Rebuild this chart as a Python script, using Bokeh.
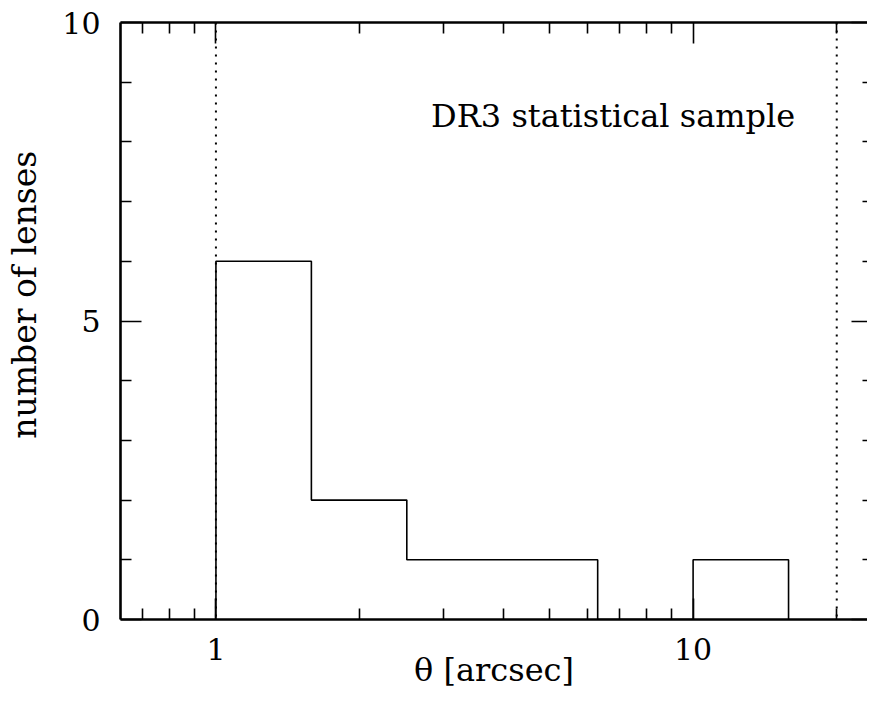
from bokeh.plotting import figure
from bokeh.models import (Range1d, LogAxis, LinearAxis, FixedTicker, Span, Label,
                          PrintfTickFormatter)
from bokeh.embed import file_html
from bokeh.resources import INLINE

# ---- data ----
bin_edges = [1.0, 1.585, 2.512, 3.981, 6.310, 10.0, 15.85]
lens_counts = [6, 2, 1, 1, 0, 1]
theta_limits = [1.0, 20.0]
annotation = "DR3 statistical sample"
x_title = "θ [arcsec]"
y_title = "number of lenses"

x_major_ticks = [1, 10]
x_minor_ticks = [0.7, 0.8, 0.9, 2, 3, 4, 5, 6, 7, 8, 9, 20]
y_major_ticks = [0, 5, 10]
y_minor_ticks = [1, 2, 3, 4, 6, 7, 8, 9]

FONT = "DejaVu Serif"

# step outline built from bins
xs = [bin_edges[0]]
ys = [0]
for i, c in enumerate(lens_counts):
    xs += [bin_edges[i], bin_edges[i + 1]]
    ys += [c, c]
xs.append(bin_edges[-1])
ys.append(0)

p = figure(width=867, height=697, x_axis_type="log",
           x_range=Range1d(10 ** -0.2, 23.2), y_range=Range1d(0, 10),
           output_backend="svg", toolbar_location=None,
           min_border_left=120, min_border_right=0,
           min_border_top=22, min_border_bottom=78)
p.outline_line_color = None
p.xgrid.grid_line_color = None
p.ygrid.grid_line_color = None
p.background_fill_color = "white"
p.border_fill_color = "white"


def style_axis(ax, major, minor, show_labels, line=True):
    ax.ticker = FixedTicker(ticks=major, minor_ticks=minor)
    ax.major_tick_in = 21
    ax.major_tick_out = 0
    ax.minor_tick_in = 11
    ax.minor_tick_out = 0
    ax.major_tick_line_width = 1.6
    ax.minor_tick_line_width = 1.6
    ax.major_tick_line_color = "black"
    ax.minor_tick_line_color = "black"
    ax.axis_label_standoff = 0
    if line:
        ax.axis_line_width = 2.6
        ax.axis_line_color = "black"
    else:
        ax.axis_line_color = None
    ax.major_label_text_font = FONT
    ax.major_label_text_color = "black"
    ax.axis_label_text_font = FONT
    ax.axis_label_text_font_style = "normal"
    ax.axis_label_text_color = "black"
    if not show_labels:
        ax.major_label_text_font_size = "1px"
        ax.major_label_text_color = None
        ax.major_label_standoff = 0


bx = p.xaxis[0]
style_axis(bx, x_major_ticks, x_minor_ticks, True)
bx.formatter = PrintfTickFormatter(format="%g")
bx.major_label_text_font_size = "30px"
bx.major_label_standoff = 18
bx.axis_label = x_title
bx.axis_label_text_font_size = "32px"
bx.axis_label_standoff = -12

ly = p.yaxis[0]
style_axis(ly, y_major_ticks, y_minor_ticks, True)
ly.major_label_text_font_size = "30px"
ly.major_label_standoff = 20
# leading no-break spaces nudge the rotated title upwards like the original
ly.axis_label = "\u00a0" * 5 + y_title
ly.axis_label_text_font_size = "33px"
ly.axis_label_standoff = 15

tx = LogAxis()
style_axis(tx, x_major_ticks, x_minor_ticks, False)
p.add_layout(tx, "above")

ry = LinearAxis()
style_axis(ry, y_major_ticks, y_minor_ticks, False, line=False)
ry.major_tick_in = 16
ry.minor_tick_in = 5
p.add_layout(ry, "right")

for t in theta_limits:
    p.add_layout(Span(location=t, dimension="height", line_color="black",
                      line_width=2, line_dash="2 6"))

p.line(xs, ys, line_color="black", line_width=1.6)

p.add_layout(Label(x=6.8, y=8.44, text=annotation, text_align="center",
                   text_baseline="alphabetic", text_font=FONT,
                   text_font_size="32px", text_color="black"))

open("out.html", "w").write(file_html(p, INLINE))
